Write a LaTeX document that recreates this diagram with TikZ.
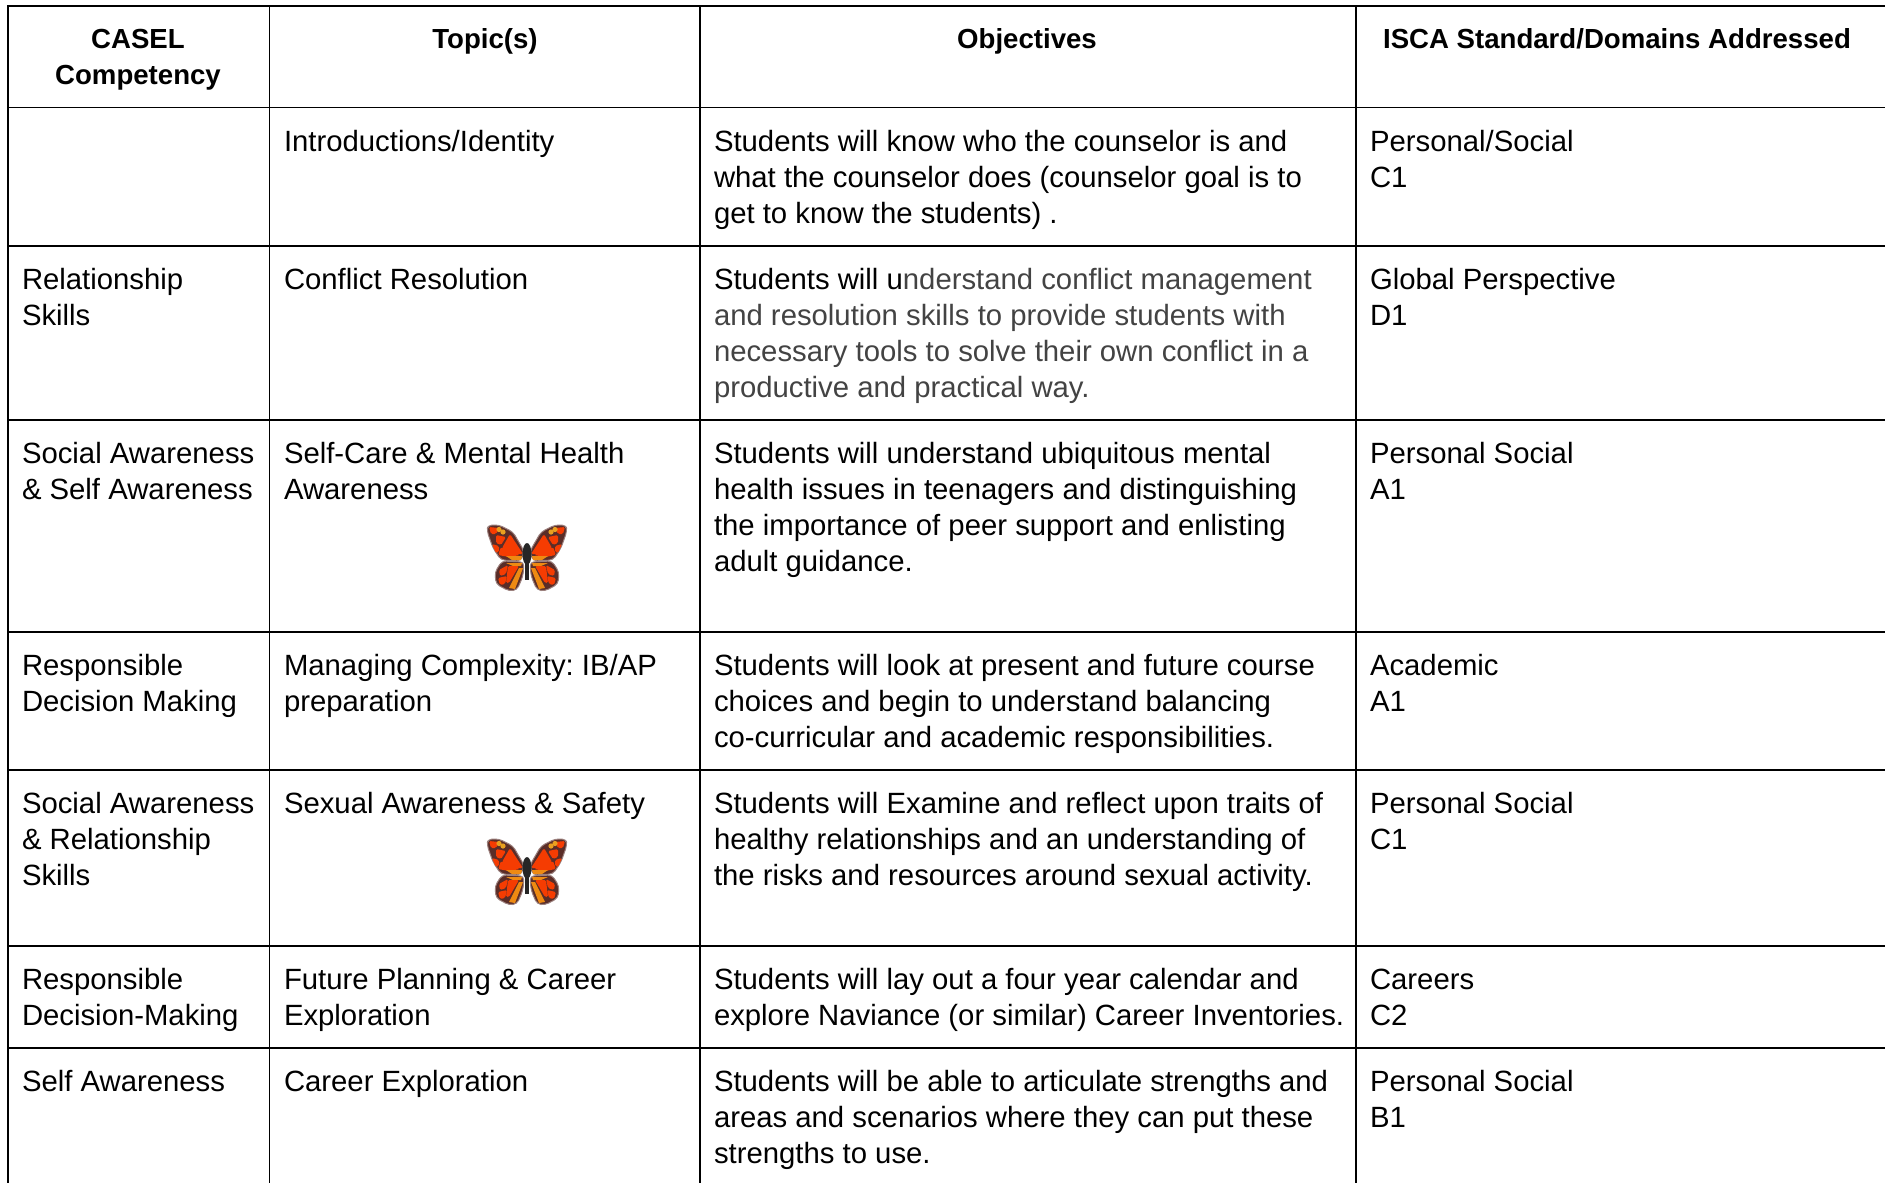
\documentclass[tikz,border=0pt]{standalone}
\usepackage{fontspec}
\setmainfont{Liberation Sans}
\frenchspacing
\definecolor{greytext}{HTML}{434343}
\definecolor{wingred}{HTML}{F53C02}
\definecolor{wingorange}{HTML}{EE8A12}
\definecolor{wingdark}{HTML}{5A2D28}
\definecolor{wingspot}{HTML}{E8A020}
\newcommand{\bodyfont}{\fontsize{29.3}{36}\selectfont}
\newcommand{\headfont}{\bfseries\fontsize{27.6}{36}\selectfont}
\newcommand{\lns}[1]{\begin{tabular}[t]{@{}l@{}}#1\end{tabular}}
\newcommand{\clns}[1]{\begin{tabular}[t]{@{}c@{}}#1\end{tabular}}
\tikzset{
  x=1pt,y=-1pt,
  rule/.style={line width=1.8pt,black},
  cell/.style={anchor=base west,inner sep=0pt,outer sep=0pt,font=\bodyfont,text=black},
  headcell/.style={anchor=base,inner sep=0pt,outer sep=0pt,font=\headfont,text=black},
  wingpart/.style={fill=wingred,rounded corners=1.5pt},
  pics/butterfly/.style={code={
    \foreach \s in {-1,1}{
      \begin{scope}[xscale=\s]
        \fill[wingdark,draw=wingdark!60,line width=1pt,line join=round,rounded corners=4pt]
          (3,-7) -- (14,-26) -- (28,-33) -- (39,-33) -- (40,-27) -- (34,-10) -- (26,2) -- (6,3) -- cycle;
        \fill[wingdark,draw=wingdark!60,line width=1pt,line join=round,rounded corners=4pt]
          (3,4) -- (25,3) -- (32,14) -- (31,26) -- (18,33) -- (10,32) -- (4,18) -- cycle;
        \fill[wingpart] (4,-4) -- (17,-24) -- (25,-10) -- (13,-4) -- cycle;
        \fill[wingpart] (7,-3) -- (26,-11) -- (29,-3) -- (18,-1) -- cycle;
        \fill[wingpart] (21,-21) -- (31,-23) -- (31,-15) -- (26,-13) -- cycle;
        \fill[wingpart] (28,-12) -- (35,-14) -- (31,-5) -- (28,-6) -- cycle;
        \fill[wingpart] (28,-30) -- (38,-31) -- (36,-24) -- (31,-24) -- cycle;
        \fill[wingspot] (24,-26) circle (2.6);
        \fill[wingspot] (28,-28.5) circle (2.6);
        \fill[wingorange] (5,-2) -- (21,-2) -- (15,2) -- (6,2) -- cycle;
        \fill[wingorange] (5,5) -- (21,5) -- (14,8) -- (6,8) -- cycle;
        \fill[wingorange] (4,10) -- (8,10) -- (18,30) -- (12,31) -- cycle;
        \fill[wingpart] (8,8) -- (19,8) -- (21,25) -- (18,25) -- cycle;
        \fill[wingpart] (19,7) -- (28,12) -- (27,18) -- (21,16) -- cycle;
        \fill[wingpart] (20,18) -- (29,20) -- (27,27) -- (22,26) -- cycle;
      \end{scope}
    }
    \fill[black!85] (0,-4) ellipse (4.5 and 11);
    \fill[black!85] (-1.6,6) rectangle (1.6,22);
  }}
}
\begin{document}
\begin{tikzpicture}
\useasboundingbox (0,0) rectangle (1885,1183);
\fill[white] (0,0) rectangle (1885,1183);
% rules
\foreach \y in {6,107.5,246,420,632,770,946,1048} {\draw[rule] (7.5,\y) -- (1885,\y);}
\foreach \x in {8,269.5,700,1356} {\draw[rule] (\x,5) -- (\x,1183);}
% header
\node[headcell] (h1) at (138,48) {\clns{CASEL\\Competency}};
\node[headcell] (h2) at (485,48) {Topic(s)};
\node[headcell] (h3) at (1027,48) {Objectives};
\node[headcell] (h4) at (1617,48) {ISCA Standard/Domains Addressed};
% row 1
\node[cell] (r1b) at (284,151) {Introductions/Identity};
\node[cell] (r1c) at (714,151) {\lns{Students will know who the counselor is and\\what the counselor does (counselor goal is to\\get to know the students) .}};
\node[cell] (r1d) at (1370,151) {\lns{Personal/Social\\C1}};
% row 2
\node[cell] (r2a) at (22,289) {\lns{Relationship\\Skills}};
\node[cell] (r2b) at (284,289) {Conflict Resolution};
\node[cell] (r2c) at (714,289) {\lns{Students will u{\color{greytext}nderstand conflict management}\\{\color{greytext}and resolution skills to provide students with}\\{\color{greytext}necessary tools to solve their own conflict in a}\\{\color{greytext}productive and practical way.}}};
\node[cell] (r2d) at (1370,289) {\lns{Global Perspective\\D1}};
% row 3
\node[cell] (r3a) at (22,463) {\lns{Social Awareness\\\& Self Awareness}};
\node[cell] (r3b) at (284,463) {\lns{Self-Care \& Mental Health\\Awareness}};
\node[cell] (r3c) at (714,463) {\lns{Students will understand ubiquitous mental\\health issues in teenagers and distinguishing\\the importance of peer support and enlisting\\adult guidance.}};
\node[cell] (r3d) at (1370,463) {\lns{Personal Social\\A1}};
% row 4
\node[cell] (r4a) at (22,675) {\lns{Responsible\\Decision Making}};
\node[cell] (r4b) at (284,675) {\lns{Managing Complexity: IB/AP\\preparation}};
\node[cell] (r4c) at (714,675) {\lns{Students will look at present and future course\\choices and begin to understand balancing\\co-curricular and academic responsibilities.}};
\node[cell] (r4d) at (1370,675) {\lns{Academic\\A1}};
% row 5
\node[cell] (r5a) at (22,813) {\lns{Social Awareness\\\& Relationship\\Skills}};
\node[cell] (r5b) at (284,813) {Sexual Awareness \& Safety};
\node[cell] (r5c) at (714,813) {\lns{Students will Examine and reflect upon traits of\\healthy relationships and an understanding of\\the risks and resources around sexual activity.}};
\node[cell] (r5d) at (1370,813) {\lns{Personal Social\\C1}};
% row 6
\node[cell] (r6a) at (22,989) {\lns{Responsible\\Decision-Making}};
\node[cell] (r6b) at (284,989) {\lns{Future Planning \& Career\\Exploration}};
\node[cell] (r6c) at (714,989) {\lns{Students will lay out a four year calendar and\\explore Naviance (or similar) Career Inventories.}};
\node[cell] (r6d) at (1370,989) {\lns{Careers\\C2}};
% row 7
\node[cell] (r7a) at (22,1091) {Self Awareness};
\node[cell] (r7b) at (284,1091) {Career Exploration};
\node[cell] (r7c) at (714,1091) {\lns{Students will be able to articulate strengths and\\areas and scenarios where they can put these\\strengths to use.}};
\node[cell] (r7d) at (1370,1091) {\lns{Personal Social\\B1}};
% butterflies
\pic at (527,558) {butterfly};
\pic at (527,872) {butterfly};
\end{tikzpicture}
\end{document}
